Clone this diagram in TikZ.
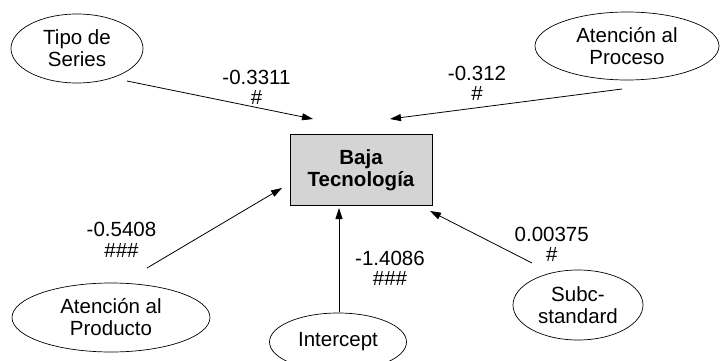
\documentclass[tikz,border=0pt]{standalone}
\usepackage{fontspec}
\setmainfont{Liberation Sans}
\usetikzlibrary{arrows.meta,shapes.geometric}
\begin{document}
\begin{tikzpicture}[x=1pt,y=-1pt,
  oval/.style={ellipse, draw, line width=0.7pt, inner sep=0pt, align=center, font=\fontsize{20.5}{22}\selectfont},
  target/.style={rectangle, draw, line width=1pt, fill=black!17, inner sep=0pt, align=center, font=\bfseries\fontsize{20.5}{21.5}\selectfont, minimum width=142pt, minimum height=71pt},
  coef/.style={inner sep=0pt, align=center, anchor=north, font=\fontsize{20.5}{20}\selectfont},
  link/.style={line width=0.8pt, -{Triangle[length=11pt,width=7pt]}}]
\useasboundingbox (0,0) rectangle (720,361);
\begin{scope}
\clip (0,0) rectangle (720,361);
\node[oval, minimum width=132pt, minimum height=69pt] (tipo) at (77,48.5) {Tipo de\\Series};
\node[oval, minimum width=184pt, minimum height=68pt] (proc) at (627,46) {Atención al\\Proceso};
\node[target] (baja) at (361,170) {Baja\\Tecnología};
\node[oval, minimum width=198pt, minimum height=69pt] (prod) at (111,317.5) {Atención al\\Producto};
\node[oval, minimum width=137pt, minimum height=58pt] (inter) at (338,342) {Intercept};
\node[oval, minimum width=130pt, minimum height=70pt] (subc) at (578,305) {Subc-\\standard};
\end{scope}

\coordinate (tipo-o) at (127,81);   \coordinate (baja-i1) at (313,119);
\coordinate (proc-o) at (622,89);   \coordinate (baja-i2) at (390,119);
\coordinate (prod-o) at (147,268);  \coordinate (baja-i3) at (282,188);
\coordinate (inter-o) at (339,312); \coordinate (baja-i4) at (339,208);
\coordinate (subc-o) at (532,263);  \coordinate (baja-i5) at (430,211);

\draw[link] (tipo-o) -- (baja-i1);
\draw[link] (proc-o) -- (baja-i2);
\draw[link] (prod-o) -- (baja-i3);
\draw[link] (inter-o) -- (baja-i4);
\draw[link] (subc-o) -- (baja-i5);

\node[coef] (c1) at (256.5,69.5) {-0.3311\\[0pt]\#};
\node[coef] (c2) at (477,65.5) {-0.312\\[0pt]\#};
\node[coef] (c3) at (121.5,221.7) {-0.5408\\[1.5pt]\#\#\#};
\node[coef] (c4) at (390,251) {-1.4086\\\#\#\#};
\node[coef] (c5) at (551.7,226.7) {0.00375\\\#};
\end{tikzpicture}
\end{document}
